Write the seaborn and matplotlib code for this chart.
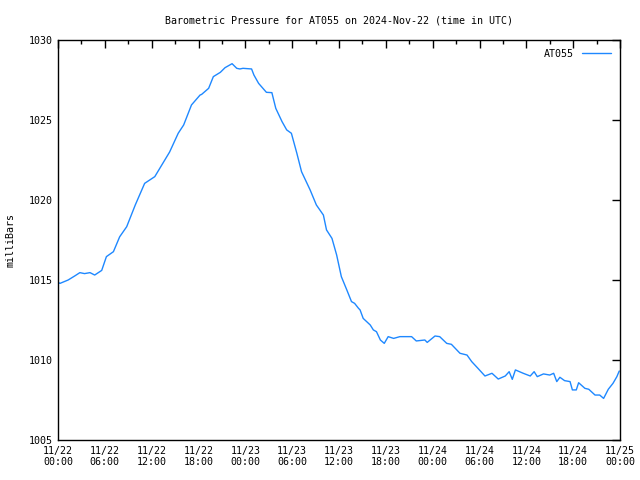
import matplotlib
matplotlib.use("Agg")
import matplotlib.pyplot as plt
import seaborn as sns
import pandas as pd
import numpy as np

# hours since 2024-11-22 00:00 UTC
hours = [0.0, 0.26, 1.3, 2.2, 2.8, 3.4, 4.1, 4.7, 5.6, 6.2, 7.1, 7.9, 8.8, 9.9, 11.1, 12.4,
         13.3, 14.3, 15.4, 16.1, 17.1, 18.2, 18.4, 19.3, 19.9, 20.8, 21.4, 22.3, 22.9, 23.3,
         23.7, 24.8, 25.1, 25.7, 26.7, 27.4, 27.9, 28.7, 29.3, 29.9, 30.6, 31.2, 32.3, 33.1,
         34.0, 34.4, 35.1, 35.7, 36.3, 37.0, 37.6, 38.0, 38.5, 38.7, 39.1, 40.0, 40.4, 40.8,
         41.3, 41.8, 42.3, 43.0, 43.8, 45.3, 45.9, 47.0, 47.3, 48.3, 48.9, 49.8, 50.4, 51.5,
         52.4, 53.0, 53.8, 54.7, 55.6, 56.4, 57.3, 57.8, 58.2, 58.6, 59.6, 60.5, 61.0, 61.4,
         62.2, 63.0, 63.5, 63.9, 64.3, 64.9, 65.6, 65.9, 66.4, 66.7, 67.5, 68.0, 68.8, 69.4,
         69.9, 70.5, 71.1, 71.6, 71.9]
pressure = [1014.85, 1014.79, 1015.0, 1015.27, 1015.46, 1015.4, 1015.46, 1015.31, 1015.6,
            1016.46, 1016.77, 1017.7, 1018.33, 1019.69, 1021.04, 1021.46, 1022.19, 1023.0,
            1024.17, 1024.69, 1025.94, 1026.56, 1026.6, 1026.98, 1027.71, 1027.98, 1028.27,
            1028.52, 1028.23, 1028.19, 1028.23, 1028.19, 1027.81, 1027.29, 1026.73, 1026.71,
            1025.73, 1024.9, 1024.38, 1024.17, 1022.92, 1021.77, 1020.63, 1019.69, 1019.06,
            1018.13, 1017.6, 1016.56, 1015.21, 1014.38, 1013.65, 1013.54, 1013.23, 1013.13,
            1012.6, 1012.19, 1011.88, 1011.77, 1011.25, 1011.04, 1011.46, 1011.35, 1011.46,
            1011.46, 1011.19, 1011.25, 1011.1, 1011.5, 1011.46, 1011.04, 1010.98, 1010.42,
            1010.31, 1009.9, 1009.48, 1009.0, 1009.17, 1008.81, 1009.0, 1009.27, 1008.79,
            1009.38, 1009.17, 1009.0, 1009.27, 1008.96, 1009.13, 1009.06, 1009.17, 1008.65,
            1008.92, 1008.71, 1008.65, 1008.13, 1008.13, 1008.58, 1008.23, 1008.17, 1007.81,
            1007.81, 1007.6, 1008.17, 1008.54, 1008.96, 1009.31]
tick_hours = [0, 6, 12, 18, 24, 30, 36, 42, 48, 54, 60, 66, 72]
tick_labels = ["11/22\n00:00", "11/22\n06:00", "11/22\n12:00", "11/22\n18:00",
               "11/23\n00:00", "11/23\n06:00", "11/23\n12:00", "11/23\n18:00",
               "11/24\n00:00", "11/24\n06:00", "11/24\n12:00", "11/24\n18:00",
               "11/25\n00:00"]
y_ticks = [1005, 1010, 1015, 1020, 1025, 1030]

sns.set_style("white")
plt.rcParams["font.family"] = ["DejaVu Sans Mono"]
plt.rcParams["text.color"] = "black"
plt.rcParams["axes.labelcolor"] = "black"
plt.rcParams["xtick.color"] = "black"
plt.rcParams["ytick.color"] = "black"
plt.rcParams["xtick.labelcolor"] = "black"
plt.rcParams["ytick.labelcolor"] = "black"
FS = 7.2

df = pd.DataFrame({"hours": hours, "pressure": pressure, "station": "AT055"})

fig = plt.figure(figsize=(6.4, 4.8), dpi=100)
ax = fig.add_axes([58/640, 40/480, 562/640, 400/480])
sns.lineplot(data=df, x="hours", y="pressure", hue="station",
             palette=["#1E88FF"], linewidth=1.0, ax=ax)

ax.set_xlim(0, 72)
ax.set_ylim(1005, 1030)
ax.set_xticks(tick_hours)
ax.set_xticklabels(tick_labels)
ax.set_xticks(np.arange(3, 72, 6), minor=True)
ax.set_yticks(y_ticks)
ax.set_yticklabels([str(v) for v in y_ticks])
ax.tick_params(which="both", direction="in", top=True, right=True, color="black",
               labelcolor="black", labelsize=FS, pad=4)
ax.tick_params(which="major", length=6, width=1)
ax.tick_params(which="minor", length=3, width=1)
for s in ax.spines.values():
    s.set_color("black")
    s.set_linewidth(1)

ax.set_xlabel("")
ax.set_ylabel("milliBars", fontsize=FS, color="black")
ax.yaxis.set_label_coords(-0.0765, 0.5)
ax.set_title("Barometric Pressure for AT055 on 2024-Nov-22 (time in UTC)",
             fontsize=FS, pad=12, color="black")

leg = ax.legend(loc="upper right", frameon=False, markerfirst=False,
                handlelength=2.9, handletextpad=0.8, fontsize=FS,
                borderaxespad=0.6, borderpad=0.3)
leg.set_title(None)
for t in leg.get_texts():
    t.set_color("black")

fig.savefig("out.png", dpi=100)
